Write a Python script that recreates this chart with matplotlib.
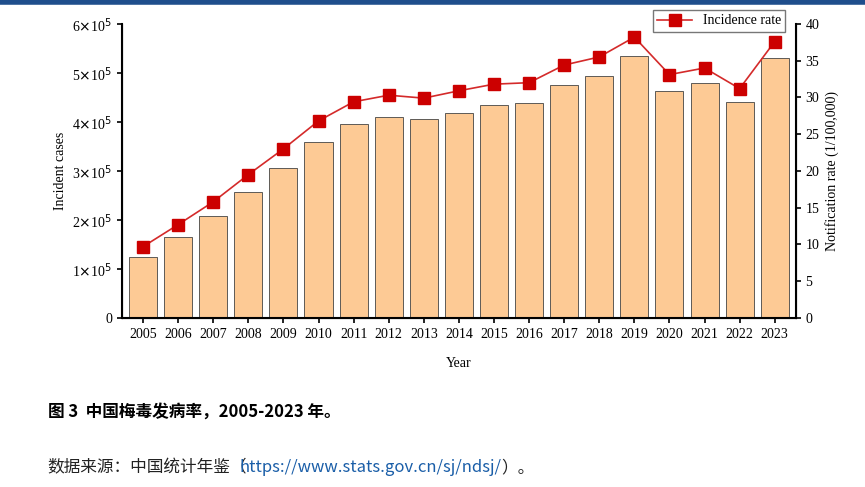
import numpy as np
import matplotlib.pyplot as plt
from matplotlib.ticker import FuncFormatter

years = list(range(2005, 2024))
cases = [1.24, 1.65, 2.08, 2.57, 3.06, 3.59, 3.96, 4.10, 4.06, 4.18,
         4.35, 4.39, 4.76, 4.94, 5.35, 4.63, 4.80, 4.41, 5.31]  # x 1e5
rate = [9.7, 12.7, 15.8, 19.5, 23.0, 26.8, 29.4, 30.3, 29.9, 30.9,
        31.8, 32.0, 34.4, 35.5, 38.2, 33.1, 34.0, 31.2, 37.6]

serif = 'Liberation Serif'
fig = plt.figure(figsize=(8.65, 4.87), dpi=100)
ax = fig.add_axes([0.141, 0.347, 0.779, 0.604])
x = np.arange(len(years))
ax.bar(x, np.array(cases) * 1e5, width=0.8, color='#fdca95', edgecolor='#444444', lw=0.6)
ax.set_xlim(-0.6, len(years) - 0.4)
ax.set_ylim(0, 6e5)
ax.set_yticks(np.arange(0, 7e5, 1e5))
ax.yaxis.set_major_formatter(FuncFormatter(lambda v, p: '0' if v == 0 else r'%d$\times$10$^5$' % round(v / 1e5)))
ax.set_xticks(x)
ax.set_xticklabels(years)
ax.set_xlabel('Year', family=serif, fontsize=10, labelpad=12)
ax.spines['top'].set_visible(False)
ax.spines['bottom'].set_linewidth(1.5)
ax.spines['left'].set_linewidth(1.5)

ax2 = ax.twinx()
ax2.plot(x, rate, color='#d42a2a', lw=1.2, marker='s', ms=8, mfc='#cc0000', mec='#cc0000', label='Incidence rate')
ax2.set_ylim(0, 40)
ax2.set_yticks(range(0, 45, 5))
ax2.set_ylabel('Notification rate (1/100,000)', family=serif, fontsize=10)
ax2.spines['top'].set_visible(False)
ax2.spines['right'].set_linewidth(1.5)
for a in (ax, ax2):
    a.tick_params(direction='out', width=1.2)
    for lab in a.get_xticklabels() + a.get_yticklabels():
        lab.set_family(serif)
        lab.set_fontsize(10)
ax.set_ylabel('Incident cases', family=serif, fontsize=10)
ax2.legend(loc='lower right', bbox_to_anchor=(0.995, 0.95), prop={'family': serif, 'size': 10},
           frameon=True, fancybox=False, edgecolor='#555555', borderpad=0.3, handlelength=2.5)
fig.add_artist(plt.Line2D([0, 1], [0.996, 0.996], color='#1f4e8c', lw=4))

cjk = ['Noto Sans CJK SC', 'DejaVu Sans']
fig.text(0.055, 0.145, '图 3  中国梅毒发病率，2005-2023 年。', family=cjk, fontsize=12, weight='bold')
t1 = fig.text(0.055, 0.03, '数据来源：中国统计年鉴（', family=cjk, fontsize=12, color='#222222')
t2 = fig.text(0, 0, 'https://www.stats.gov.cn/sj/ndsj/', family=cjk, fontsize=12, color='#1a5ea8')
t3 = fig.text(0, 0, '）。', family=cjk, fontsize=12, color='#222222')
fig.canvas.draw()
r = fig.canvas.get_renderer()
inv = fig.transFigure.inverted()
e1 = t1.get_window_extent(r)
t2.set_position((inv.transform((e1.x1 - 8, 0))[0], 0.03))
e2 = t2.get_window_extent(r)
t3.set_position((inv.transform((e2.x1, 0))[0], 0.03))
fig.savefig('out.png', dpi=100)
